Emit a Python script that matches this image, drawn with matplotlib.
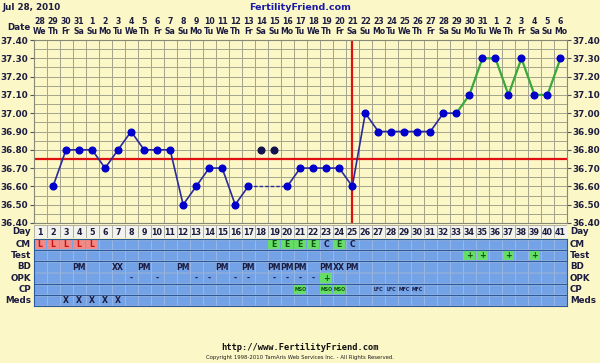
import numpy as np
import matplotlib.pyplot as plt
from matplotlib.transforms import blended_transform_factory

# Chart data
days = np.arange(1, 42)
date_numbers = [28, 29, 30, 31] + list(range(1, 32)) + list(range(1, 7))
weekday_cycle = ['We', 'Th', 'Fr', 'Sa', 'Su', 'Mo', 'Tu']
weekdays = [weekday_cycle[i % 7] for i in range(41)]

temps = np.array([np.nan, 36.60, 36.80, 36.80, 36.80, 36.70, 36.80, 36.90, 36.80, 36.80,
                  36.80, 36.50, 36.60, 36.70, 36.70, 36.50, 36.60, np.nan, np.nan, 36.60,
                  36.70, 36.70, 36.70, 36.70, 36.60, 37.00, 36.90, 36.90, 36.90, 36.90,
                  36.90, 37.00, 37.00, 37.10, 37.30, 37.30, 37.10, 37.30, 37.10, 37.10,
                  37.30])
discarded_days = [18, 19]
discarded_temps = [36.80, 36.80]
coverline = 36.75
ovulation_day = 25
green_from_day = 33

# Table rows (day -> entry)
cm = {1: 'L', 2: 'L', 3: 'L', 4: 'L', 5: 'L', 19: 'E', 20: 'E', 21: 'E', 22: 'E',
      23: 'C', 24: 'E', 25: 'C'}
test = {34: '+', 35: '+', 37: '+', 39: '+'}
bd = {4: 'PM', 7: 'XX', 9: 'PM', 12: 'PM', 15: 'PM', 17: 'PM', 19: 'PM', 20: 'PM',
      21: 'PM', 23: 'PM', 24: 'XX', 25: 'PM'}
opk = {8: '-', 10: '-', 13: '-', 14: '-', 16: '-', 17: '-', 19: '-', 20: '-',
       21: '-', 22: '-', 23: '+'}
cp = {21: 'MSO', 23: 'MSO', 24: 'MSO', 27: 'LFC', 28: 'LFC', 29: 'MFC', 30: 'MFC'}
meds = {3: 'X', 4: 'X', 5: 'X', 6: 'X', 7: 'X'}
row_names = ['CM', 'Test', 'BD', 'OPK', 'CP', 'Meds']
row_data = [cm, test, bd, opk, cp, meds]

# Colours
bg = '#fbf7c6'
grid_c = '#a4a38c'
navy = '#2a2a9c'
dot = '#0000cc'
red = '#e01010'
green_line = '#3aa83a'
cell_blue = '#74a2e6'
txt = '#1c1c40'

W, H = 600, 363


def fy(px):
    return 1 - px / H


def fx(px):
    return px / W


fig = plt.figure(figsize=(6, 3.63), dpi=100, facecolor=bg)
font = dict(family='DejaVu Sans', weight='bold', color=txt)

# Temperature grid
x0, x1 = 33.5, 567
ax = fig.add_axes([fx(x0), fy(223), fx(x1 - x0), fy(40) - fy(223)])
ax.set_facecolor(bg)
ax.set_xlim(0.5, 41.5)
ax.set_ylim(36.40, 37.40)
for xv in np.arange(0.5, 42, 1):
    ax.axvline(xv, color=grid_c, lw=0.7, zorder=1)
for yv in np.arange(36.40, 37.41, 0.05):
    ax.axhline(yv, color=grid_c, lw=0.7, zorder=1)
ax.set_xticks([])
ax.set_yticks(np.round(np.arange(36.40, 37.41, 0.10), 2))
ax.set_yticklabels(['%.2f' % v for v in np.arange(36.40, 37.41, 0.10)])
ax.tick_params(axis='y', length=3, width=0.8, color='#555555', pad=1,
               labelsize=6.3, labelcolor=txt, left=True, right=True,
               labelleft=True, labelright=True)
for lab in ax.get_yticklabels():
    lab.set_fontweight('bold')
for s in ax.spines.values():
    s.set_color('#888877')
    s.set_linewidth(0.8)

ax.axhline(coverline, color=red, lw=1.6, zorder=2)
ax.axvline(ovulation_day, color=red, lw=1.6, zorder=2)

# blue segments up to green_from_day, green afterwards
blue_mask = days <= green_from_day
ax.plot(days[blue_mask], temps[blue_mask], color=navy, lw=1.2, zorder=3)
green_mask = days >= green_from_day
ax.plot(days[green_mask], temps[green_mask], color=green_line, lw=1.6, zorder=3)
# dashed bridge across the discarded gap
valid = days[~np.isnan(temps)]
for a, b in zip(valid[:-1], valid[1:]):
    if b - a > 1:
        ax.plot([a, b], [temps[a - 1], temps[b - 1]], color=navy, lw=1.0,
                ls=(0, (2.5, 1.5)), zorder=3)
ax.plot(days, temps, 'o', color=dot, ms=4.8, zorder=4)
ax.plot(discarded_days, discarded_temps, 'o', color='#12124e', ms=4.8, zorder=4)

# Header
tr_head = blended_transform_factory(ax.transData, fig.transFigure)
for d, n, w in zip(days, date_numbers, weekdays):
    ax.text(d, fy(21), str(n), transform=tr_head, ha='center', va='center',
            fontsize=5.6, **font)
    ax.text(d, fy(32), w, transform=tr_head, ha='center', va='center',
            fontsize=5.6, **font)
fig.text(fx(31), fy(27), 'Date', ha='right', va='center', fontsize=6.3, **font)
fig.text(fx(3), fy(7), 'Jul 28, 2010', ha='left', va='center', fontsize=6.3, **font)
fig.text(0.5, fy(7), 'FertilityFriend.com', ha='center', va='center', fontsize=6.8,
         family='DejaVu Sans', weight='bold', color='#1a1aa8')

# Day row
ax_d = fig.add_axes([fx(x0), fy(238), fx(x1 - x0), fy(225) - fy(238)])
ax_d.set_xlim(0.5, 41.5)
ax_d.set_ylim(0, 1)
ax_d.axis('off')
ax_d.bar(days, 1, width=1, bottom=0, color='#f3f3ee', edgecolor='#a8a8a0', lw=0.6)
for d in days:
    ax_d.text(d, 0.45, str(d), ha='center', va='center', fontsize=5.8, **font)
fig.text(fx(31), fy(231.5), 'Day', ha='right', va='center', fontsize=6.3, **font)
fig.text(fx(570), fy(231.5), 'Day', ha='left', va='center', fontsize=6.3, **font)

# Observation rows
ax_t = fig.add_axes([fx(x0), fy(306), fx(x1 - x0), fy(239) - fy(306)])
ax_t.set_xlim(0.5, 41.5)
ax_t.set_ylim(len(row_names), 0)
ax_t.set_facecolor('#2c5a9c')
for s in ax_t.spines.values():
    s.set_color('#2c5a9c')
ax_t.set_xticks([])
ax_t.set_yticks([])

row_px = (306 - 239) / len(row_names)
for r, (name, data) in enumerate(zip(row_names, row_data)):
    ax_t.bar(days, 0.84, width=1, bottom=r + 0.08, color=cell_blue,
             edgecolor='#a2bee8', lw=0.5)
    for d, lab in data.items():
        face = None
        col = txt
        size = 5.6
        if lab == 'L':
            face, col = '#f08a86', '#cc1010'
        elif lab in ('E', '+') or (lab == 'MSO'):
            face, col = '#66dd66', '#105010'
        if name == 'CP':
            size = 3.4
        if face is not None:
            ax_t.bar(d, 0.84, width=0.9, bottom=r + 0.08, color=face, lw=0)
        ax_t.text(d, r + 0.52, lab, ha='center', va='center', fontsize=size,
                  family='DejaVu Sans', weight='bold', color=col)
    ypx = 239 + row_px * (r + 0.5)
    fig.text(fx(31), fy(ypx), name, ha='right', va='center', fontsize=6.3, **font)
    fig.text(fx(570), fy(ypx), name, ha='left', va='center', fontsize=6.3, **font)

# Footer
fig.text(0.5, fy(348), 'http://www.FertilityFriend.com', ha='center', va='center',
         fontsize=6.3, family='DejaVu Sans Mono', weight='bold', color='#101010')
fig.text(0.5, fy(357.5), 'Copyright 1998-2010 TamAris Web Services Inc. - All Rights Reserved.',
         ha='center', va='center', fontsize=3.9, family='DejaVu Sans', color='#202020')

fig.savefig('out.png', dpi=100, facecolor=bg)
